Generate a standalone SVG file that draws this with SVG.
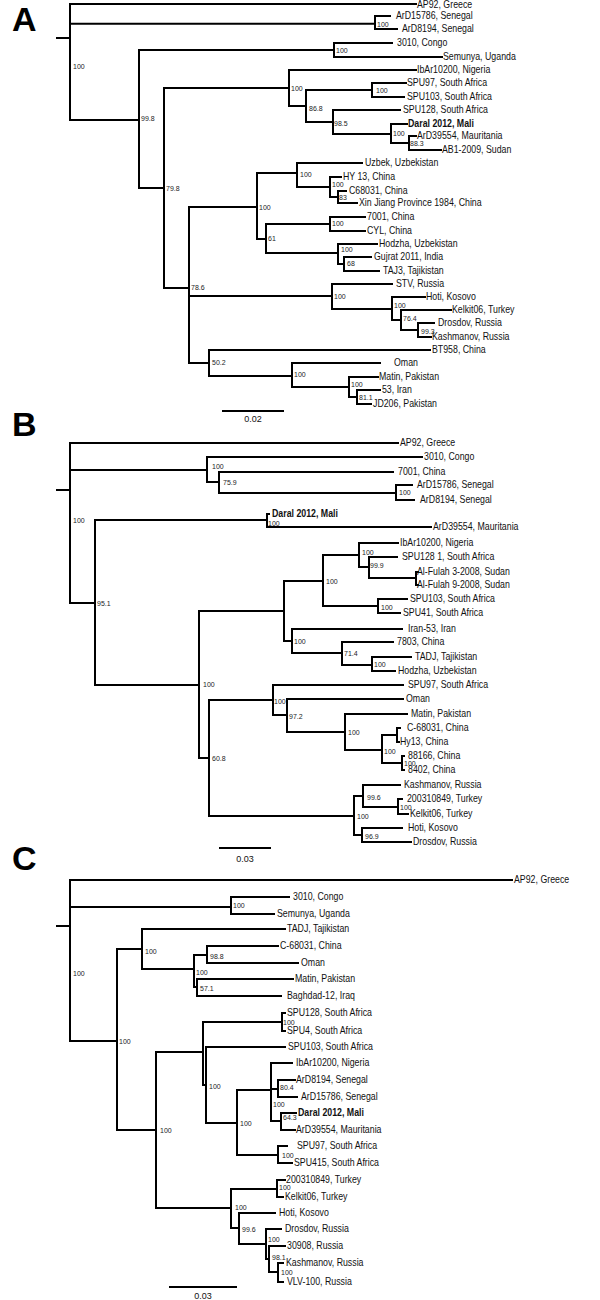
<svg xmlns="http://www.w3.org/2000/svg" width="600" height="1300" viewBox="0 0 600 1300">
<style>
.br{fill:none;stroke:#000;stroke-width:2;stroke-linecap:square}
.t{font-family:"Liberation Sans",Arial,sans-serif;font-size:10px;fill:#111;transform-box:fill-box;transform-origin:0 0;transform:scaleX(.88)}
.d{font-weight:bold}
.b{font-family:"Liberation Sans",Arial,sans-serif;font-size:7px;fill:#222}
.s{font-family:"Liberation Sans",Arial,sans-serif;font-size:9px;fill:#111;text-anchor:middle}
.p{font-family:"Liberation Sans",Arial,sans-serif;font-size:34px;font-weight:bold;fill:#000}
</style>
<rect width="600" height="1300" fill="#fff"/>

<g id="panelA">
<text class="p" x="12" y="31">A</text>
<g id="A-connectors">
<path class="br" d="M57,38H70 M70,4V120 M70,4H416 M70,23.7H375 M70,120H139
M375,16V29 M375,16H390 M375,29H397
M139,50V188 M139,50H334 M139,188H164
M334,43V57 M334,43H392 M334,57H442
M164,88V288 M164,88H289 M164,288H189
M289,70V106 M289,70H416 M289,106H306
M306,90V122 M306,90H372 M306,122H333
M372,83V97 M372,83H406 M372,97H404
M333,110V134 M333,110H400 M333,134H391
M391,124V143 M391,124H407 M391,143H409
M409,136V150 M409,136H416 M409,150H441
M189,207V363 M189,207H257 M189,296H332 M189,363H209
M257,173V239 M257,173H297 M257,239H266
M297,163V187 M297,163H362 M297,187H330
M330,177V197 M330,177H341 M330,197H338
M338,191V203 M338,191H346 M338,203H357
M266,224V253 M266,224H330 M266,253H338
M330,217V231 M330,217H365 M330,231H365
M338,244V264 M338,244H377 M338,264H344
M344,257V271 M344,257H371 M344,271H379
M332,284V309 M332,284H392 M332,309H392
M392,297V320 M392,297H425 M392,320H401
M401,310V330 M401,310H451 M401,330H418
M418,323V337 M418,323H434 M418,337H431
M209,350V376 M209,350H430 M209,376H292
M292,363V387 M292,363H380 M292,387H349
M349,377V397 M349,377H378 M349,397H357
M357,390V404 M357,390H380 M357,404H371"/>
<path class="br" d="M223,411H283"/>
</g>
<g id="A-tips">
<text class="t" x="417" y="7.5">AP92, Greece</text>
<text class="t" x="396" y="19.5">ArD15786, Senegal</text>
<text class="t" x="402" y="32.5">ArD8194, Senegal</text>
<text class="t" x="397" y="46.5">3010, Congo</text>
<text class="t" x="443" y="60.5">Semunya, Uganda</text>
<text class="t" x="417" y="73.5">IbAr10200, Nigeria</text>
<text class="t" x="407" y="86.5">SPU97, South Africa</text>
<text class="t" x="407" y="100.5">SPU103, South Africa</text>
<text class="t" x="403" y="113.5">SPU128, South Africa</text>
<text class="t d" x="408" y="127.5">Daral 2012, Mali</text>
<text class="t" x="417" y="139.5">ArD39554, Mauritania</text>
<text class="t" x="442" y="153.5">AB1-2009, Sudan</text>
<text class="t" x="365" y="166.5">Uzbek, Uzbekistan</text>
<text class="t" x="343" y="180.5">HY 13, China</text>
<text class="t" x="349" y="194.5">C68031, China</text>
<text class="t" x="359" y="206.5">Xin Jiang Province 1984, China</text>
<text class="t" x="367" y="220.5">7001, China</text>
<text class="t" x="367" y="234.5">CYL, China</text>
<text class="t" x="379" y="247.5">Hodzha, Uzbekistan</text>
<text class="t" x="374" y="260.5">Gujrat 2011, India</text>
<text class="t" x="383" y="274.5">TAJ3, Tajikistan</text>
<text class="t" x="396" y="287.5">STV, Russia</text>
<text class="t" x="426" y="300.5">Hoti, Kosovo</text>
<text class="t" x="452" y="313.5">Kelkit06, Turkey</text>
<text class="t" x="438" y="326.5">Drosdov, Russia</text>
<text class="t" x="432" y="340.5">Kashmanov, Russia</text>
<text class="t" x="432" y="353.5">BT958, China</text>
<text class="t" x="394" y="366.5">Oman</text>
<text class="t" x="379" y="380.5">Matin, Pakistan</text>
<text class="t" x="382" y="393.5">53, Iran</text>
<text class="t" x="373" y="407.5">JD206, Pakistan</text>
</g>
<g id="A-support">
<text class="b" x="73" y="68.5">100</text>
<text class="b" x="377" y="26.5">100</text>
<text class="b" x="336" y="52.5">100</text>
<text class="b" x="141" y="120.5">99.8</text>
<text class="b" x="291" y="90.5">100</text>
<text class="b" x="376" y="92.5">100</text>
<text class="b" x="309" y="110.5">86.8</text>
<text class="b" x="334" y="125.5">98.5</text>
<text class="b" x="393" y="135.5">100</text>
<text class="b" x="410" y="146">88.3</text>
<text class="b" x="166" y="190.5">79.8</text>
<text class="b" x="259" y="209.5">100</text>
<text class="b" x="300" y="176.5">100</text>
<text class="b" x="332" y="186.5">100</text>
<text class="b" x="339" y="199.5">83</text>
<text class="b" x="268" y="240.5">61</text>
<text class="b" x="332" y="225.5">100</text>
<text class="b" x="341" y="251.5">100</text>
<text class="b" x="347" y="265.5">68</text>
<text class="b" x="191" y="289.5">78.6</text>
<text class="b" x="334" y="298.5">100</text>
<text class="b" x="394" y="307.5">100</text>
<text class="b" x="403" y="320.5">76.4</text>
<text class="b" x="421" y="333.5">99.3</text>
<text class="b" x="212" y="364.5">50.2</text>
<text class="b" x="294" y="376.5">100</text>
<text class="b" x="351" y="386.5">100</text>
<text class="b" x="359" y="399.5">81.1</text>
</g>
<text class="s" x="253" y="422">0.02</text>
</g>

<g id="panelB">
<text class="p" x="12" y="436">B</text>
<g id="B-connectors">
<path class="br" d="M57,490H70 M70,443V603 M70,443H398 M70,470H207 M70,603H95
M207,457V482 M207,457H422 M207,482H219
M219,472V493 M219,472H393 M219,493H396
M396,485V500 M396,485H412 M396,500H414
M95,520V685 M95,520H267 M95,685H199
M267,514V527 M267,514H269 M267,527H431
M199,611V758 M199,611H284 M199,758H209
M284,581V641 M284,581H323 M284,641H292
M323,555V606 M323,555H359 M323,606H378
M359,543V567 M359,543H398 M359,567H369
M369,557V578 M369,557H397 M369,578H416
M416,572V585 M416,572H418 M416,585H418
M378,599V613 M378,599H407 M378,613H400
M292,629V653 M292,629H402 M292,653H342
M342,642V665 M342,642H393 M342,665H372
M372,657V671 M372,657H411 M372,671H395
M209,700V816 M209,700H273 M209,816H354
M273,685V715 M273,685H403 M273,715H287
M287,699V732 M287,699H403 M287,732H345
M345,714V750 M345,714H407 M345,750H382
M382,735V763 M382,735H397 M382,763H402
M397,728V742 M397,728H400 M397,742H399
M402,756V770 M402,756H404 M402,770H404
M354,796V835 M354,796H363 M354,835H362
M363,785V807 M363,785H400 M363,807H398
M398,799V814 M398,799H402 M398,814H408
M362,828V842 M362,828H402 M362,842H411"/>
<path class="br" d="M220,848H270"/>
</g>
<g id="B-tips">
<text class="t" x="400" y="446.5">AP92, Greece</text>
<text class="t" x="424" y="460.5">3010, Congo</text>
<text class="t" x="398" y="475.5">7001, China</text>
<text class="t" x="417" y="488.5">ArD15786, Senegal</text>
<text class="t" x="420" y="503.5">ArD8194, Senegal</text>
<text class="t d" x="272" y="517.5">Daral 2012, Mali</text>
<text class="t" x="433" y="530.5">ArD39554, Mauritania</text>
<text class="t" x="400" y="546.5">IbAr10200, Nigeria</text>
<text class="t" x="402" y="560.5">SPU128 1, South Africa</text>
<text class="t" x="417" y="575.5">Al-Fulah 3-2008, Sudan</text>
<text class="t" x="417" y="588.5">Al-Fulah 9-2008, Sudan</text>
<text class="t" x="410" y="602.5">SPU103, South Africa</text>
<text class="t" x="403" y="616.5">SPU41, South Africa</text>
<text class="t" x="408" y="632.5">Iran-53, Iran</text>
<text class="t" x="397" y="645.5">7803, China</text>
<text class="t" x="415" y="660.5">TADJ, Tajikistan</text>
<text class="t" x="398" y="674.5">Hodzha, Uzbekistan</text>
<text class="t" x="408" y="688.5">SPU97, South Africa</text>
<text class="t" x="406" y="702.5">Oman</text>
<text class="t" x="411" y="717.5">Matin, Pakistan</text>
<text class="t" x="407" y="731.5">C-68031, China</text>
<text class="t" x="400" y="745.5">Hy13, China</text>
<text class="t" x="408" y="759.5">88166, China</text>
<text class="t" x="408" y="773.5">8402, China</text>
<text class="t" x="404" y="788.5">Kashmanov, Russia</text>
<text class="t" x="407" y="802.5">200310849, Turkey</text>
<text class="t" x="410" y="817.5">Kelkit06, Turkey</text>
<text class="t" x="408" y="831.5">Hoti, Kosovo</text>
<text class="t" x="413" y="845.5">Drosdov, Russia</text>
</g>
<g id="B-support">
<text class="b" x="73" y="522.5">100</text>
<text class="b" x="212" y="468.5">100</text>
<text class="b" x="223" y="484.5">75.9</text>
<text class="b" x="399" y="494.5">100</text>
<text class="b" x="268" y="525.5">100</text>
<text class="b" x="97" y="605.5">95.1</text>
<text class="b" x="326" y="583.5">100</text>
<text class="b" x="362" y="554.5">100</text>
<text class="b" x="370" y="567.5">99.9</text>
<text class="b" x="381" y="609.5">100</text>
<text class="b" x="203" y="686.5">100</text>
<text class="b" x="294" y="643.5">100</text>
<text class="b" x="344" y="655.5">71.4</text>
<text class="b" x="374" y="666.5">100</text>
<text class="b" x="274" y="703.5">100</text>
<text class="b" x="289" y="718.5">97.2</text>
<text class="b" x="348" y="734.5">100</text>
<text class="b" x="384" y="753.5">100</text>
<text class="b" x="404" y="765.5">100</text>
<text class="b" x="212" y="760.5">60.8</text>
<text class="b" x="357" y="818.5">100</text>
<text class="b" x="367" y="799.5">99.6</text>
<text class="b" x="400" y="809.5">100</text>
<text class="b" x="365" y="838.5">96.9</text>
</g>
<text class="s" x="245" y="862">0.03</text>
</g>

<g id="panelC">
<text class="p" x="12" y="870">C</text>
<g id="C-connectors">
<path class="br" d="M57,926H70 M70,880V1041 M70,880H512 M70,907H231 M70,1041H117
M231,897V914 M231,897H289 M231,914H274
M117,949V1130 M117,949H142 M117,1130H156
M142,929V969 M142,929H285 M142,969H194
M194,955V987 M194,955H207 M194,987H197
M207,946V963 M207,946H278 M207,963H298
M197,979V996 M197,979H293 M197,996H281
M156,1052V1208 M156,1052H203 M156,1208H231
M203,1022V1085 M203,1022H282 M203,1085H206
M282,1013V1031 M282,1013H285 M282,1031H285
M206,1047V1123 M206,1047H285 M206,1123H237
M237,1090V1155 M237,1090H271 M237,1155H278
M271,1063V1121 M271,1063H292 M271,1089H278 M271,1121H281
M278,1080V1097 M278,1080H295 M278,1097H297
M281,1113V1130 M281,1113H296 M281,1130H295
M278,1146V1163 M278,1146H287 M278,1163H292
M231,1189V1228 M231,1189H277 M231,1228H239
M277,1180V1197 M277,1180H285 M277,1197H283
M239,1213V1244 M239,1213H275 M239,1244H266
M266,1229V1259 M266,1229H281 M266,1259H269
M269,1246V1272 M269,1246H285 M269,1272H278
M278,1263V1282 M278,1263H283 M278,1282H283"/>
<path class="br" d="M170,1287H236"/>
</g>
<g id="C-tips">
<text class="t" x="514" y="883.5">AP92, Greece</text>
<text class="t" x="293" y="900.5">3010, Congo</text>
<text class="t" x="277" y="917.5">Semunya, Uganda</text>
<text class="t" x="287" y="932.5">TADJ, Tajikistan</text>
<text class="t" x="280" y="949.5">C-68031, China</text>
<text class="t" x="301" y="966.5">Oman</text>
<text class="t" x="295" y="982.5">Matin, Pakistan</text>
<text class="t" x="287" y="999.5">Baghdad-12, Iraq</text>
<text class="t" x="287" y="1016.5">SPU128, South Africa</text>
<text class="t" x="287" y="1034.5">SPU4, South Africa</text>
<text class="t" x="288" y="1050.5">SPU103, South Africa</text>
<text class="t" x="296" y="1066.5">IbAr10200, Nigeria</text>
<text class="t" x="296" y="1083.5">ArD8194, Senegal</text>
<text class="t" x="301" y="1100.5">ArD15786, Senegal</text>
<text class="t d" x="298" y="1116.5">Daral 2012, Mali</text>
<text class="t" x="296" y="1133.5">ArD39554, Mauritania</text>
<text class="t" x="297" y="1149.5">SPU97, South Africa</text>
<text class="t" x="294" y="1166.5">SPU415, South Africa</text>
<text class="t" x="286" y="1183.5">200310849, Turkey</text>
<text class="t" x="285" y="1200.5">Kelkit06, Turkey</text>
<text class="t" x="279" y="1216.5">Hoti, Kosovo</text>
<text class="t" x="285" y="1232.5">Drosdov, Russia</text>
<text class="t" x="287" y="1249.5">30908, Russia</text>
<text class="t" x="286" y="1266.5">Kashmanov, Russia</text>
<text class="t" x="287" y="1285.5">VLV-100, Russia</text>
</g>
<g id="C-support">
<text class="b" x="73" y="975.5">100</text>
<text class="b" x="233" y="907.5">100</text>
<text class="b" x="145" y="953.5">100</text>
<text class="b" x="210" y="958.5">98.8</text>
<text class="b" x="196" y="974.5">100</text>
<text class="b" x="200" y="990.5">57.1</text>
<text class="b" x="119" y="1043.5">100</text>
<text class="b" x="283" y="1024.5">100</text>
<text class="b" x="209" y="1088.5">100</text>
<text class="b" x="240" y="1125.5">100</text>
<text class="b" x="273" y="1106.5">100</text>
<text class="b" x="280" y="1089.5">80.4</text>
<text class="b" x="283" y="1119.5">64.3</text>
<text class="b" x="160" y="1132.5">100</text>
<text class="b" x="282" y="1157.5">100</text>
<text class="b" x="235" y="1209.5">100</text>
<text class="b" x="279" y="1189.5">100</text>
<text class="b" x="242" y="1231.5">99.6</text>
<text class="b" x="268" y="1241.5">100</text>
<text class="b" x="272" y="1259.5">98.1</text>
<text class="b" x="281" y="1274.5">100</text>
</g>
<text class="s" x="203" y="1299">0.03</text>
</g>
</svg>
